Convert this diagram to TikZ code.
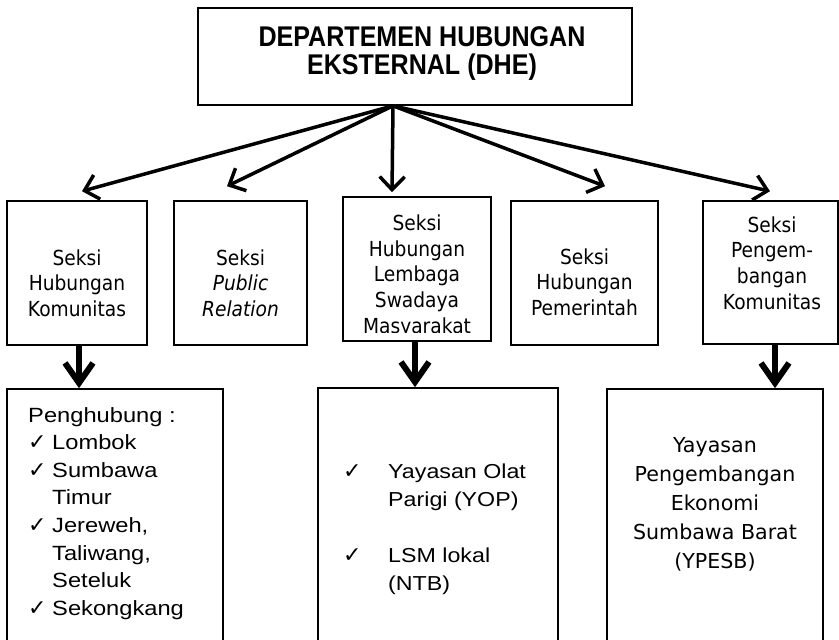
\documentclass[tikz,border=0pt]{standalone}
\usepackage{fontspec}
\usepackage{tikz}
\usetikzlibrary{arrows.meta}
\newfontfamily\titlefont[FakeStretch=0.88]{Liberation Sans}
\newfontfamily\tahomafont[FakeStretch=0.9]{DejaVu Sans}
\newfontfamily\widefont{DejaVu Sans}
\newfontfamily\arialfont[FakeStretch=1.15]{Liberation Sans}
\newfontfamily\checkfont{DejaVu Sans}
\newcommand{\chk}{{\checkfont\fontsize{22}{22}\selectfont ✓}}
\tikzset{box/.style = {draw, line width = 1.6pt, inner sep = 0}}
\tikzset{seksi/.style = {align = center, inner sep = 0, font = \tahomafont\fontsize{20.7}{25.7}\selectfont}}
\tikzset{list/.style = {align = left, inner sep = 0, anchor = north west}}
\tikzset{fan/.style = {line width = 3.5pt, -{Straight Barb[length = 13pt, width = 25pt]}}}
\tikzset{down/.style = {line width = 6pt, -{Straight Barb[length = 20pt, width = 28pt]}}}

\begin{document}
\begin{tikzpicture}[x = 1pt, y = -1pt]
    \useasboundingbox (0, 0) rectangle (839, 640);

    \node [box, minimum width = 434, minimum height = 97] (dhe) at (415, 56.5) {};
    \node [align = center, inner sep = 0, font = \titlefont\bfseries\fontsize{28.5}{28}\selectfont] (dhetext) at (422, 54) {DEPARTEMEN HUBUNGAN\\EKSTERNAL (DHE)};

    \node [box, minimum width = 140, minimum height = 144] (s1) at (77, 273) {};
    \node [box, minimum width = 133, minimum height = 144] (s2) at (240.5, 273) {};
    \node [box, minimum width = 148, minimum height = 144] (s3) at (417, 269) {};
    \node [box, minimum width = 147, minimum height = 144] (s4) at (584.5, 273) {};
    \node [box, minimum width = 135, minimum height = 143] (s5) at (770.5, 272.5) {};

    \node [seksi] (s1text) at (77, 283) {Seksi\\Hubungan\\Komunitas};
    \node [seksi] (s2text) at (240.5, 283) {Seksi\\\textit{Public}\\\textit{Relation}};
    \begin{scope}
      \clip (343, 197) rectangle (491, 332);
      \node [seksi] (s3text) at (417, 276) {Seksi\\Hubungan\\Lembaga\\Swadaya\\Masyarakat};
    \end{scope}
    \node [seksi] (s4text) at (584.5, 282) {Seksi\\Hubungan\\Pemerintah};
    \node [seksi] (s5text) at (772, 263) {Seksi\\Pengem-\\bangan\\Komunitas};

    \node [box, minimum width = 216, minimum height = 261] (hA) at (115, 519.5) {};
    \node [box, minimum width = 240, minimum height = 262] (hB) at (438, 519) {};
    \node [box, minimum width = 216, minimum height = 261] (hC) at (715, 519.5) {};

    \node [list, font = \arialfont\fontsize{20.6}{27.6}\selectfont] (hAtext) at (28, 407) {Penghubung :\\
      \makebox[24pt][l]{\chk}Lombok\\
      \makebox[24pt][l]{\chk}Sumbawa\\
      \hspace*{24pt}Timur\\
      \makebox[24pt][l]{\chk}Jereweh,\\
      \hspace*{24pt}Taliwang,\\
      \hspace*{24pt}Seteluk\\
      \makebox[24pt][l]{\chk}Sekongkang};
    \node [list, font = \arialfont\fontsize{20.2}{28}\selectfont] (hBtext) at (343, 464) {\makebox[45pt][l]{\chk}Yayasan Olat\\
      \hspace*{45pt}Parigi (YOP)\\[28pt]
      \makebox[45pt][l]{\chk}LSM lokal\\
      \hspace*{45pt}(NTB)};
    \node [align = center, inner sep = 0, font = \widefont\fontsize{20.6}{29}\selectfont] (hCtext) at (715, 504) {Yayasan\\Pengembangan\\Ekonomi\\Sumbawa Barat\\(YPESB)};

    \coordinate (hub) at ([xshift = -22pt]dhe.south);
    \draw [fan] (hub) -- ([xshift = 5pt, yshift = 9pt]s1.north);
    \draw [fan] (hub) -- ([xshift = -13.5pt, yshift = 14pt]s2.north);
    \draw [fan] (hub) -- ([xshift = -25pt, yshift = 4pt]s3.north);
    \draw [fan] (hub) -- ([xshift = 20.5pt, yshift = 14pt]s4.north);
    \draw [fan] (hub) -- ([xshift = -0.5pt, yshift = 9pt]s5.north);

    \draw [down] ([xshift = 2pt]s1.south) -- ([xshift = 2pt]s1.south |- hA.north);
    \draw [down] ([xshift = -2pt]s3.south) -- ([xshift = -2pt]s3.south |- hB.north);
    \draw [down] ([xshift = 4.5pt]s5.south) -- ([xshift = 4.5pt]s5.south |- hC.north);
\end{tikzpicture}
\end{document}
